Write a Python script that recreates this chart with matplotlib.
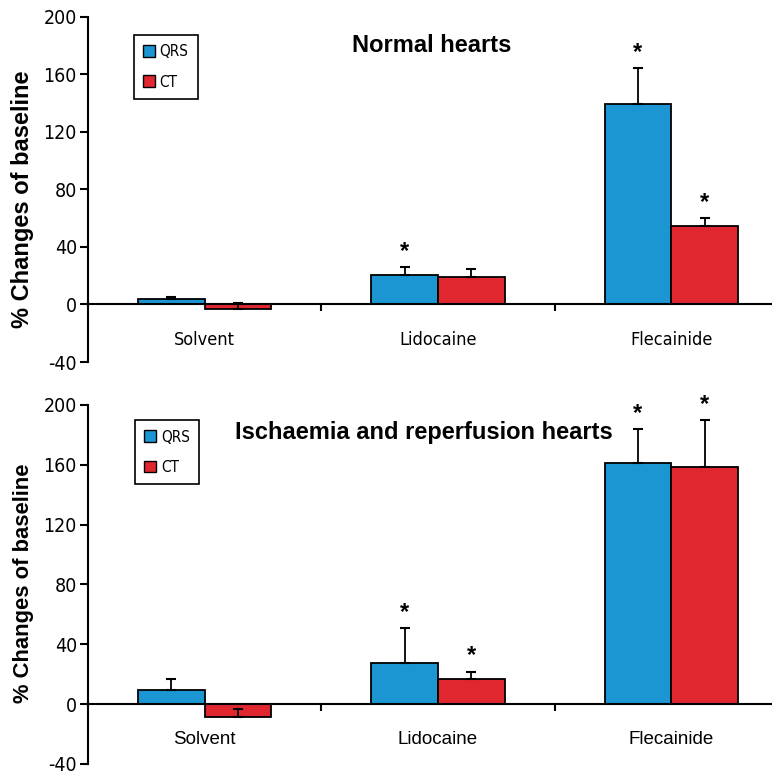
import matplotlib
matplotlib.use("Agg")
import matplotlib.pyplot as plt
from matplotlib.patches import Patch
from matplotlib import font_manager
import numpy as np

categories = ["Solvent", "Lidocaine", "Flecainide"]
series = ["QRS", "CT"]

normal_qrs = [3.5, 20.2, 139.0]
normal_qrs_err = [2.0, 5.5, 25.0]
normal_ct = [-3.0, 18.8, 54.3]
normal_ct_err = [4.0, 5.5, 5.7]
normal_qrs_sig = [False, True, True]
normal_ct_sig = [False, False, True]

isch_qrs = [9.2, 27.7, 161.0]
isch_qrs_err = [7.3, 23.1, 23.0]
isch_ct = [-8.6, 16.5, 158.4]
isch_ct_err = [5.3, 5.3, 31.6]
isch_qrs_sig = [False, True, True]
isch_ct_sig = [False, True, True]

titles = ["Normal hearts", "Ischaemia and reperfusion hearts"]
yticks = [-40, 0, 40, 80, 120, 160, 200]

BLUE = "#1b96d3"
RED = "#e0262f"
SANS = ["Liberation Sans", "DejaVu Sans"]

names = {f.name for f in font_manager.fontManager.ttflist}
cond = [f for f in font_manager.fontManager.ttflist
        if f.name == "DejaVu Sans" and f.stretch == "condensed" and f.weight in (400, "normal")]
if "Liberation Sans Narrow" in names:
    NARROW = dict(family="Liberation Sans Narrow")
elif cond:
    NARROW = dict(family="DejaVu Sans", stretch="condensed")
else:
    NARROW = dict(family="Liberation Sans")

fig = plt.figure(figsize=(7.72, 7.76), dpi=100)

panels = [
    dict(rect=[0.114, 0.5335, 0.896, 0.4452], qrs=normal_qrs, qe=normal_qrs_err,
         ct=normal_ct, ce=normal_ct_err, qs=normal_qrs_sig, cs=normal_ct_sig,
         title=titles[0], tpos=(0.497, 0.917), leg=(0.066, 0.946),
         ylab_y=0.472, ylab_fs=17, cat_narrow=True, cat_fs=13, cat_pad=19),
    dict(rect=[0.114, 0.0155, 0.896, 0.4626], qrs=isch_qrs, qe=isch_qrs_err,
         ct=isch_ct, ce=isch_ct_err, qs=isch_qrs_sig, cs=isch_ct_sig,
         title=titles[1], tpos=(0.486, 0.922), leg=(0.068, 0.957),
         ylab_y=0.503, ylab_fs=15.8, cat_narrow=False, cat_fs=13.5, cat_pad=19),
]

x = np.arange(len(categories))
w = 0.286

for p in panels:
    ax = fig.add_axes(p["rect"])
    ax.set_xlim(-0.5, 2.465)
    ax.set_ylim(-40, 200)
    zeros = [0] * len(categories)
    ax.bar(x - w / 2, p["qrs"], w, color=BLUE, edgecolor="black", linewidth=1.3,
           yerr=[zeros, p["qe"]], capsize=3.3,
           error_kw=dict(elinewidth=1.3, capthick=1.5, ecolor="black"), zorder=3)
    ax.bar(x + w / 2, p["ct"], w, color=RED, edgecolor="black", linewidth=1.3,
           yerr=[zeros, p["ce"]], capsize=3.3,
           error_kw=dict(elinewidth=1.3, capthick=1.5, ecolor="black"), zorder=3)
    for i in range(len(categories)):
        if p["qs"][i]:
            ax.annotate("*", (x[i] - w / 2, p["qrs"][i] + p["qe"][i]), xytext=(0, 3),
                        textcoords="offset points", ha="center", va="bottom",
                        fontsize=17, fontweight="bold", family=SANS)
        if p["cs"][i]:
            ax.annotate("*", (x[i] + w / 2, p["ct"][i] + p["ce"][i]), xytext=(0, 3),
                        textcoords="offset points", ha="center", va="bottom",
                        fontsize=17, fontweight="bold", family=SANS)

    for s in ["top", "right"]:
        ax.spines[s].set_visible(False)
    ax.spines["left"].set_linewidth(1.5)
    ax.spines["bottom"].set_position(("data", 0))
    ax.spines["bottom"].set_linewidth(1.5)
    ax.spines["bottom"].set_zorder(4)

    ax.set_yticks(yticks)
    ax.set_yticklabels([str(v) for v in yticks], fontsize=14, **NARROW)
    ax.tick_params(axis="y", direction="out", length=6, width=1.5, pad=2)

    ax.set_xticks(x)
    if p["cat_narrow"]:
        ax.set_xticklabels(categories, fontsize=p["cat_fs"], **NARROW)
    else:
        ax.set_xticklabels(categories, fontsize=p["cat_fs"], family=SANS)
    ax.tick_params(axis="x", which="major", length=0, pad=p["cat_pad"])
    ax.set_xticks([0.5, 1.5], minor=True)
    ax.tick_params(axis="x", which="minor", direction="out", length=5, width=1.5)

    ax.set_ylabel("% Changes of baseline", fontsize=p["ylab_fs"], fontweight="bold", family=SANS)
    ax.yaxis.set_label_coords(-0.078, p["ylab_y"])

    ax.text(p["tpos"][0], p["tpos"][1], p["title"], transform=ax.transAxes,
            ha="center", va="center", fontsize=17, fontweight="bold", family=SANS)

    handles = [Patch(facecolor=BLUE, edgecolor="black", linewidth=1.0, label=series[0]),
               Patch(facecolor=RED, edgecolor="black", linewidth=1.0, label=series[1])]
    leg = ax.legend(handles=handles, loc="upper left", bbox_to_anchor=p["leg"],
                    borderaxespad=0, fancybox=False, edgecolor="black", framealpha=1,
                    handlelength=0.8, handleheight=0.8, handletextpad=0.3,
                    labelspacing=1.0, borderpad=0.6,
                    prop=font_manager.FontProperties(size=11, **NARROW))
    leg.get_frame().set_linewidth(1.2)

fig.savefig("out.png", dpi=100)
